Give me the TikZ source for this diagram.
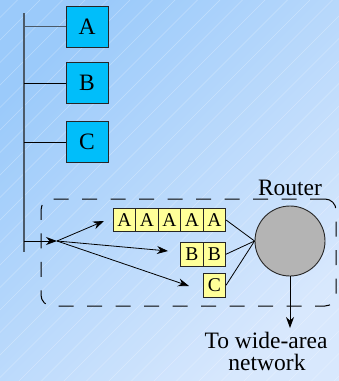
\documentclass[tikz,border=0pt]{standalone}
\usepackage{fontspec}
\setmainfont{Liberation Serif}
\newfontfamily\timesfont{Liberation Serif}
\usetikzlibrary{arrows.meta}
\definecolor{bgdark}{RGB}{155,202,250}
\definecolor{bglight}{RGB}{216,232,253}
\definecolor{hostblue}{RGB}{0,190,250}
\definecolor{qyellow}{RGB}{255,255,153}
\definecolor{routergray}{RGB}{180,180,180}
\definecolor{busgray}{RGB}{75,90,105}
\tikzset{
  bigfont/.style={font=\timesfont\fontsize{23.5}{28}\selectfont},
  host/.style={draw=black!85, line width=0.9pt, fill=hostblue, minimum width=42pt, minimum height=41pt, inner sep=0pt, bigfont},
  qcell/.style={draw=black!85, line width=0.7pt, fill=qyellow, minimum width=22.45pt, minimum height=23.4pt, inner sep=0pt, font=\timesfont\fontsize{19.5}{22}\selectfont},
  link/.style={draw=black, line width=0.8pt},
  flow/.style={draw=black, line width=0.8pt, -{Stealth[length=11pt,width=8pt]}},
  label/.style={bigfont, anchor=base, inner sep=0pt},
}
\begin{document}
\begin{tikzpicture}[x=1pt,y=-1pt]
\useasboundingbox (0,0) rectangle (339,381);
% background
\shade[top color=bgdark, bottom color=bglight, shading angle=45] (0,0) rectangle (339,381);
\begin{scope}
\clip (0,0) rectangle (339,381);
\foreach \k in {-20,...,33} {
  \draw[white, opacity=0.3, line width=0.5pt] (\k*22.5,400) -- ++(420,-420);
}
\end{scope}
% dashed router area
\node[draw=black, dash pattern=on 15pt off 13.5pt, line width=1pt, rounded corners=11pt, minimum width=295pt, minimum height=107pt, inner sep=0pt] (area) at (188.5,252.5) {};
% bus
\coordinate (bustop) at (24,13);
\coordinate (busbot) at (24,252);
\draw[busgray, line width=1.3pt] (bustop) -- (busbot);
% hosts
\node[host] (A) at (87,26.5) {A};
\node[host] (B) at (87,83) {B};
\node[host] (C) at (87,142) {C};
\draw[busgray, line width=0.9pt] (A.west) -- (A.west -| bustop);
\draw[link] (B.west) -- (B.west -| bustop);
\draw[link] (C.west) -- (C.west -| bustop);
% queues
\node[qcell] (qa1) at (124.5,220) {A};
\node[qcell] (qa2) at (147,220) {A};
\node[qcell] (qa3) at (169.5,220) {A};
\node[qcell] (qa4) at (192,220) {A};
\node[qcell] (qa5) at (214.5,220) {A};
\node[qcell] (qb1) at (192,254.2) {B};
\node[qcell] (qb2) at (214.5,254.2) {B};
\node[qcell] (qc1) at (214.5,285.2) {C};
% router
\node[circle, draw=black!85, line width=0.9pt, fill=routergray, minimum size=70pt, inner sep=0pt] (R) at (290,241) {};
\node[label] (rlabel) at (290,195) {Router};
\draw[link] (qa5.east) -- (R.west);
\draw[link] (qb2.east) -- (R.west);
\draw[link] (qc1.east) -- (R.west);
% incoming flows
\coordinate (busin) at (24,241);
\coordinate (fork) at (57,241);
\coordinate (ta) at (104,221);
\coordinate (tb) at (168,251);
\coordinate (tc) at (189,286);
\draw[flow] (busin) -- (fork);
\draw[flow] (fork) -- (ta);
\draw[flow] (fork) -- (tb);
\draw[flow] (fork) -- (tc);
% outgoing
\coordinate (wan) at (290,328);
\draw[flow] (R.south) -- (wan);
\node[label] (wl1) at (266,348) {To wide-area};
\node[label] (wl2) at (267,370) {network};
\end{tikzpicture}
\end{document}
